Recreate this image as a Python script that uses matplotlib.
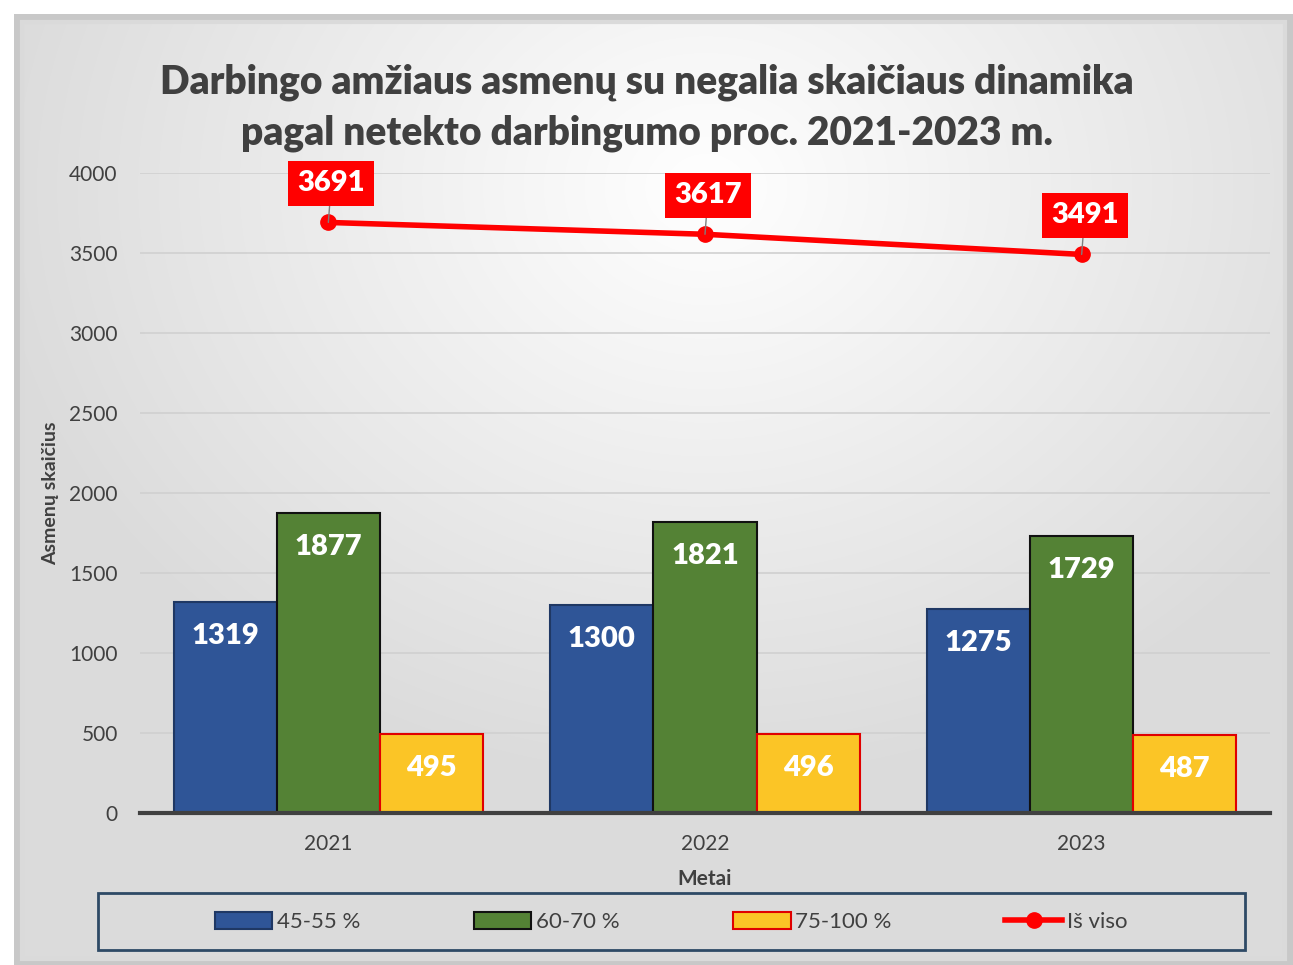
import numpy as np
import matplotlib
matplotlib.use("Agg")
import matplotlib.pyplot as plt
from matplotlib.lines import Line2D
from matplotlib.patches import Rectangle

# data
years = ["2021", "2022", "2023"]
grp_45_55 = [1319, 1300, 1275]
grp_60_70 = [1877, 1821, 1729]
grp_75_100 = [495, 496, 487]
total = [3691, 3617, 3491]
series_names = ["45-55 %", "60-70 %", "75-100 %", "Iš viso"]

plt.rcParams["font.family"] = ["Lato", "DejaVu Sans"]

W, H = 1293, 965
fig = plt.figure(figsize=(W / 100, H / 100), dpi=100)
fig.patch.set_facecolor("white")

# background panel with soft gradient
bg = fig.add_axes([0, 0, 1, 1], zorder=-10)
bg.set_xlim(0, W)
bg.set_ylim(H, 0)
bg.axis("off")
yy, xx = np.mgrid[0:H, 0:W]
d = np.sqrt(((xx - 700) / 900.0) ** 2 + ((yy - 170) / 750.0) ** 2)
shade = np.clip(1.0 - 0.17 * d, 0.86, 1.0)
img = np.dstack([shade, shade, shade])
bg.add_patch(Rectangle((14, 14), W - 14, H - 14, facecolor="#c8c8c8", edgecolor="none", zorder=0))
bg.imshow(img, extent=(22, W - 8, H - 6, 22), zorder=1, aspect="auto")
bg.add_patch(Rectangle((22, 22), W - 30, H - 28, facecolor="none", edgecolor="#dadada", lw=3, zorder=2))
# legend frame
bg.add_patch(Rectangle((98, 893), 1147, 57, facecolor="none", edgecolor="#2e4a66", lw=2, zorder=3))

ax = fig.add_axes([140 / W, 1 - 813 / H, 1130 / W, 640 / H])
ax.set_facecolor("none")

x = np.arange(len(years))
bw = 0.274
b1 = ax.bar(x - bw, grp_45_55, bw, color="#2f5597", edgecolor="#1f3864", lw=1.5, zorder=3)
b2 = ax.bar(x, grp_60_70, bw, color="#548235", edgecolor="#111111", lw=1.5, zorder=3)
b3 = ax.bar(x + bw, grp_75_100, bw, color="#fbc526", edgecolor="#e00000", lw=1.5, zorder=3)

for bars in (b1, b2, b3):
    for r in bars:
        ax.annotate(f"{int(r.get_height())}", (r.get_x() + r.get_width() / 2, r.get_height()),
                    xytext=(0, -34), textcoords="offset pixels", ha="center", va="center",
                    color="white", fontsize=21, fontweight="heavy", zorder=5)

ax.plot(x, total, color="#ff0000", lw=4, marker="o", ms=11, zorder=6)
for xi, v in zip(x, total):
    ax.annotate(f"{v}", (xi, v), xytext=(3, 39), textcoords="offset pixels",
                ha="center", va="center", color="white", fontsize=21, fontweight="heavy",
                bbox=dict(boxstyle="square,pad=0.32", fc="#ff0000", ec="none"),
                arrowprops=dict(arrowstyle="-", color="#7f7f7f", lw=1, shrinkA=0, shrinkB=0),
                zorder=7)

ax.set_xlim(-0.5, 2.5)
ax.set_ylim(0, 4000)
ax.set_yticks(range(0, 4001, 500))
ax.set_xticks(x)
ax.set_xticklabels(years)
ax.tick_params(axis="both", length=0, labelsize=15, labelcolor="#404040")
ax.tick_params(axis="x", pad=15)
ax.tick_params(axis="y", pad=16)
ax.grid(axis="y", color="#d0d0d0", lw=1.2, zorder=0)
for s in ("top", "right", "left"):
    ax.spines[s].set_visible(False)
ax.spines["bottom"].set_color("#404040")
ax.spines["bottom"].set_linewidth(3)
ax.spines["bottom"].set_zorder(4)

ax.set_xlabel("Metai", fontsize=15, fontweight="bold", color="#404040", labelpad=11)
ax.set_ylabel("Asmenų skaičius", fontsize=14, fontweight="bold", color="#404040", labelpad=7)

fig.text(0.5, 1 - 108 / H, "Darbingo amžiaus asmenų su negalia skaičiaus dinamika\npagal netekto darbingumo proc. 2021-2023 m.",
         ha="center", va="center", fontsize=28, fontweight="heavy", color="#404040", linespacing=1.45)

handles = [
    Rectangle((0, 0), 1, 1, fc="#2f5597", ec="#1f3864", lw=1.5),
    Rectangle((0, 0), 1, 1, fc="#548235", ec="#111111", lw=1.5),
    Rectangle((0, 0), 1, 1, fc="#fbc526", ec="#e00000", lw=1.5),
    Line2D([], [], color="#ff0000", lw=4, marker="o", ms=11),
]
leg = fig.legend(handles, series_names, loc="center", bbox_to_anchor=(671 / W, 1 - 922 / H),
                 ncol=4, frameon=False, fontsize=16,
                 handlelength=2.6, handleheight=0.8, handletextpad=0.2, columnspacing=5.1,
                 labelcolor="#404040")

fig.savefig("out.png", dpi=100)
